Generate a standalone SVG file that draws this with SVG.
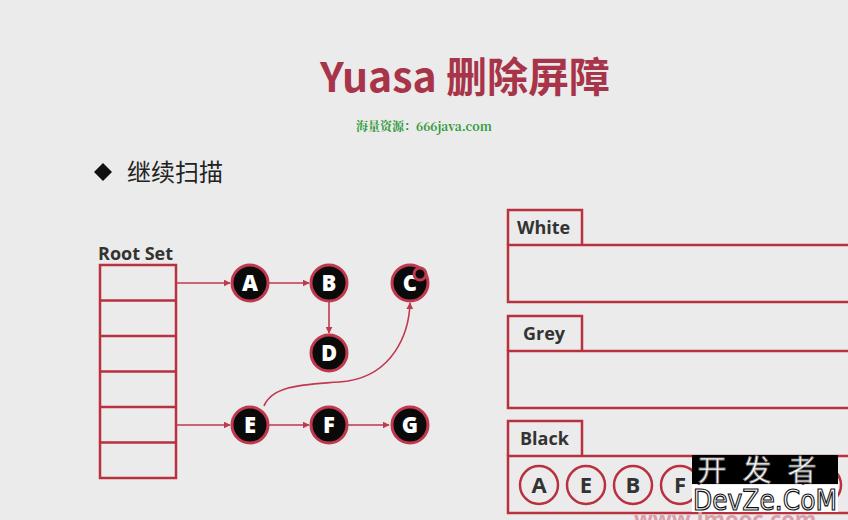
<svg xmlns="http://www.w3.org/2000/svg" width="848" height="520" viewBox="0 0 848 520">
<defs>
<style>
.lbl{font-family:"Open Sans","Noto Sans CJK SC",sans-serif;font-weight:700;fill:#333;}
.node circle{fill:#0a0a0a;stroke:#c0394f;stroke-width:3;}
.node text{font-family:"Open Sans","Noto Sans CJK SC",sans-serif;font-weight:800;font-size:22px;fill:#fff;text-anchor:middle;}
.blk circle{fill:none;stroke:#b9303f;stroke-width:2.5;}
.blk text{font-family:"Open Sans","Noto Sans CJK SC",sans-serif;font-weight:700;font-size:22px;fill:#333;text-anchor:middle;}
.box{fill:none;stroke:#b9303f;stroke-width:2.5;}
.conn{fill:none;stroke:#c0394f;stroke-width:1.6;}
</style>
<marker id="arr" viewBox="0 0 10 10" refX="9" refY="5" markerWidth="7" markerHeight="7" orient="auto" markerUnits="userSpaceOnUse">
<path d="M0,0 L10,5 L0,10 z" fill="#c0394f"/>
</marker>
<radialGradient id="glow"><stop offset="0" stop-color="#ff4040"/><stop offset="0.45" stop-color="#e8202e"/><stop offset="1" stop-color="#c0394f" stop-opacity="0"/></radialGradient>
</defs>
<rect width="848" height="520" fill="#ebebeb"/>

<text x="465" y="92" text-anchor="middle" font-family="'Noto Sans CJK SC','Open Sans',sans-serif" font-weight="700" font-size="41" fill="#a8344a">Yuasa 删除屏障</text>
<text x="356" y="131" font-family="'Noto Serif CJK SC','Liberation Serif',serif" font-weight="700" font-size="12" fill="#2f9a3a">海量资源：666java.com</text>

<path d="M103,163 L112,172 L103,181 L94,172 z" fill="#111"/>
<text x="127" y="181" font-family="'Noto Sans CJK SC',sans-serif" font-size="24" fill="#222">继续扫描</text>

<g id="rootset">
<text class="lbl" x="98" y="260" font-size="18">Root Set</text>
<rect class="box" x="100" y="265" width="76" height="213"/>
<path class="box" d="M100,300.5H176M100,336H176M100,371.5H176M100,407H176M100,442.5H176"/>
</g>

<g id="connectors">
<path class="conn" d="M176,283H230" marker-end="url(#arr)"/>
<path class="conn" d="M176,425H230" marker-end="url(#arr)"/>
<path class="conn" d="M268,283H309" marker-end="url(#arr)"/>
<path class="conn" d="M329,301V333" marker-end="url(#arr)"/>
<path class="conn" d="M268,425H309" marker-end="url(#arr)"/>
<path class="conn" d="M347,425H389" marker-end="url(#arr)"/>
<path class="conn" d="M264,406C274,382 315,385 348,381C392,374 409,335 410,303" marker-end="url(#arr)"/>
</g>

<g id="A" class="node"><circle cx="250" cy="283" r="18"/><text x="250" y="291">A</text></g>
<g id="B" class="node"><circle cx="329" cy="283" r="18"/><text x="329" y="291">B</text></g>
<g id="C" class="node"><circle cx="410" cy="283" r="18"/><text x="410" y="291">C</text><circle cx="420" cy="274" r="6" fill="url(#glow)" stroke="none"/></g>
<g id="D" class="node"><circle cx="329" cy="353" r="18"/><text x="329" y="361">D</text></g>
<g id="E" class="node"><circle cx="250" cy="425" r="18"/><text x="250" y="433">E</text></g>
<g id="F" class="node"><circle cx="329" cy="425" r="18"/><text x="329" y="433">F</text></g>
<g id="G" class="node"><circle cx="410" cy="425" r="18"/><text x="410" y="433">G</text></g>

<g id="white-set">
<path class="box" d="M508,245V210H582V245"/>
<rect class="box" x="508" y="245" width="345" height="57"/>
<text class="lbl" x="517" y="234" font-size="18">White</text>
</g>
<g id="grey-set">
<path class="box" d="M508,351V316H582V351"/>
<rect class="box" x="508" y="351" width="345" height="57"/>
<text class="lbl" x="523" y="340" font-size="18">Grey</text>
</g>
<g id="black-set">
<path class="box" d="M508,456V421H582V456"/>
<rect class="box" x="508" y="456" width="345" height="57"/>
<text class="lbl" x="520" y="445" font-size="18">Black</text>
<g class="blk"><circle cx="539" cy="485" r="19"/><text x="539" y="493">A</text></g>
<g class="blk"><circle cx="586" cy="485" r="19"/><text x="586" y="493">E</text></g>
<g class="blk"><circle cx="633" cy="485" r="19"/><text x="633" y="493">B</text></g>
<g class="blk"><circle cx="680" cy="485" r="19"/><text x="680" y="493">F</text></g>
<g class="blk"><circle cx="822" cy="485" r="19"/></g>
</g>

<text x="634" y="527" font-family="'Open Sans',sans-serif" font-weight="700" font-size="22" fill="#d9a0a8">www.imooc.com</text>

<g id="watermark">
<rect x="692" y="455" width="146" height="29" fill="#000"/>
<rect x="692" y="485" width="146" height="27" fill="#ffffff"/>
<text x="765" y="481" text-anchor="middle" font-family="'Noto Sans CJK SC',sans-serif" font-size="29" fill="#fff" stroke="#777" stroke-width="0.8" letter-spacing="16">开发者</text>
<text x="765" y="510" text-anchor="middle" font-family="'DejaVu Sans',sans-serif" font-size="28" fill="#fff" stroke="#111" stroke-width="1.2" textLength="144" lengthAdjust="spacingAndGlyphs">DevZe.CoM</text>
</g>
</svg>
